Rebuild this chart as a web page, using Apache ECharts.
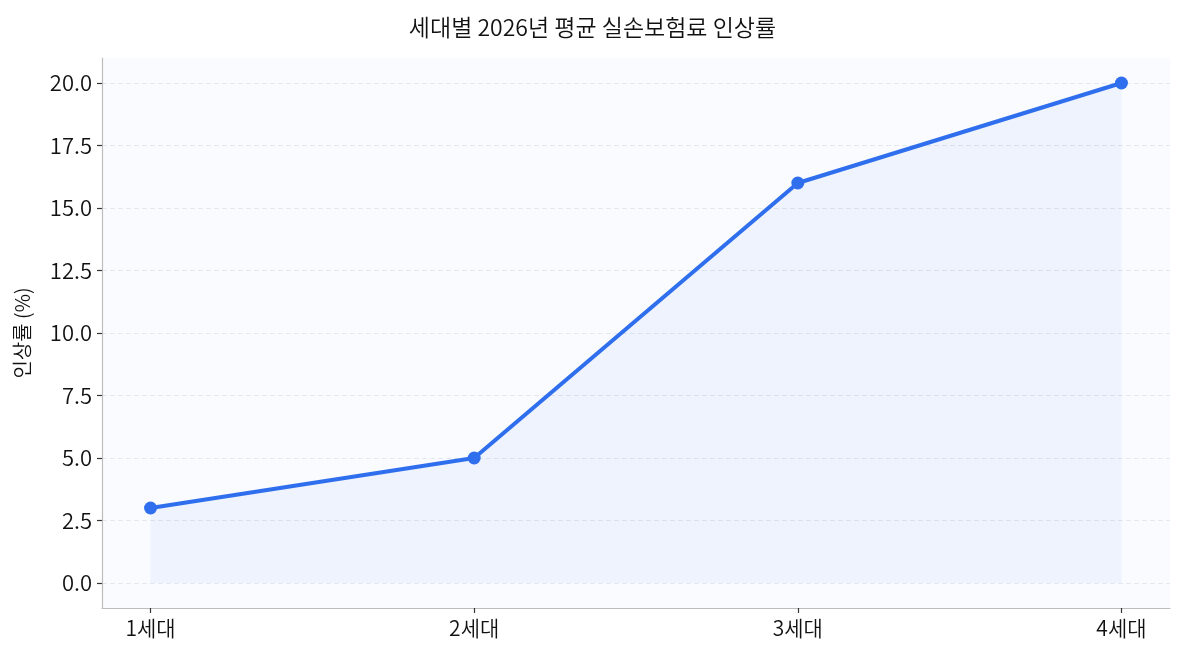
<!DOCTYPE html>
<html>
<head>
<meta charset="utf-8">
<script src="https://cdn.jsdelivr.net/npm/echarts@6/dist/echarts.min.js"></script>
<style>
  html, body { margin: 0; padding: 0; background: #fff; }
  #chart { width: 1185px; height: 660px; }
</style>
</head>
<body>
<div id="chart"></div>
<script>
// 세대별 인상률 데이터
const generations = ['1세대', '2세대', '3세대', '4세대'];
const increaseRates = [3, 5, 16, 20];
const yTicks = [0, 2.5, 5, 7.5, 10, 12.5, 15, 17.5, 20];

const font = '"Noto Sans CJK KR", "Noto Sans", sans-serif';
const chart = echarts.init(document.getElementById('chart'));

const option = {
  backgroundColor: '#ffffff',
  textStyle: { fontFamily: font },
  title: {
    text: '세대별 2026년 평균 실손보험료 인상률',
    left: 'center',
    top: 11,
    textStyle: { fontFamily: font, fontSize: 23, fontWeight: 350, color: '#111' }
  },
  grid: {
    left: 102,
    right: 15,
    top: 58,
    bottom: 52,
    show: true,
    backgroundColor: '#f9fbff',
    borderWidth: 0
  },
  xAxis: {
    type: 'value',
    min: -0.15,
    max: 3.15,
    axisLine: { show: true, onZero: false, lineStyle: { color: '#bdbdbd', width: 1.2 } },
    axisTick: { show: true, customValues: [0, 1, 2, 3], length: 5, lineStyle: { color: '#333', width: 1.2 } },
    axisLabel: {
      customValues: [0, 1, 2, 3],
      formatter: v => generations[Math.round(v)],
      color: '#111',
      fontSize: 21,
      fontWeight: 350,
      margin: 10
    },
    splitLine: { show: false }
  },
  yAxis: {
    type: 'value',
    min: -1,
    max: 21,
    name: '인상률 (%)',
    nameLocation: 'middle',
    nameGap: 70,
    nameTextStyle: { fontFamily: font, fontSize: 20, fontWeight: 350, color: '#111' },
    axisLine: { show: true, onZero: false, lineStyle: { color: '#bdbdbd', width: 1.2 } },
    axisTick: { show: true, customValues: yTicks, length: 5, lineStyle: { color: '#333', width: 1.2 } },
    axisLabel: {
      customValues: yTicks,
      formatter: v => v.toFixed(1),
      color: '#111',
      fontSize: 22,
      fontWeight: 350,
      margin: 10
    },
    splitLine: {
      show: true,
      lineStyle: { color: '#e4e8ef', type: [5, 3], width: 1 }
    }
  },
  series: [{
    type: 'line',
    data: increaseRates.map((v, i) => [i, v]),
    symbol: 'circle',
    symbolSize: 13,
    lineStyle: { color: '#2f6fed', width: 4 },
    itemStyle: { color: '#2f6fed' },
    areaStyle: { color: 'rgba(47, 111, 237, 0.08)', origin: 0 },
    z: 3
  }]
};

chart.setOption(option);
</script>
</body>
</html>
